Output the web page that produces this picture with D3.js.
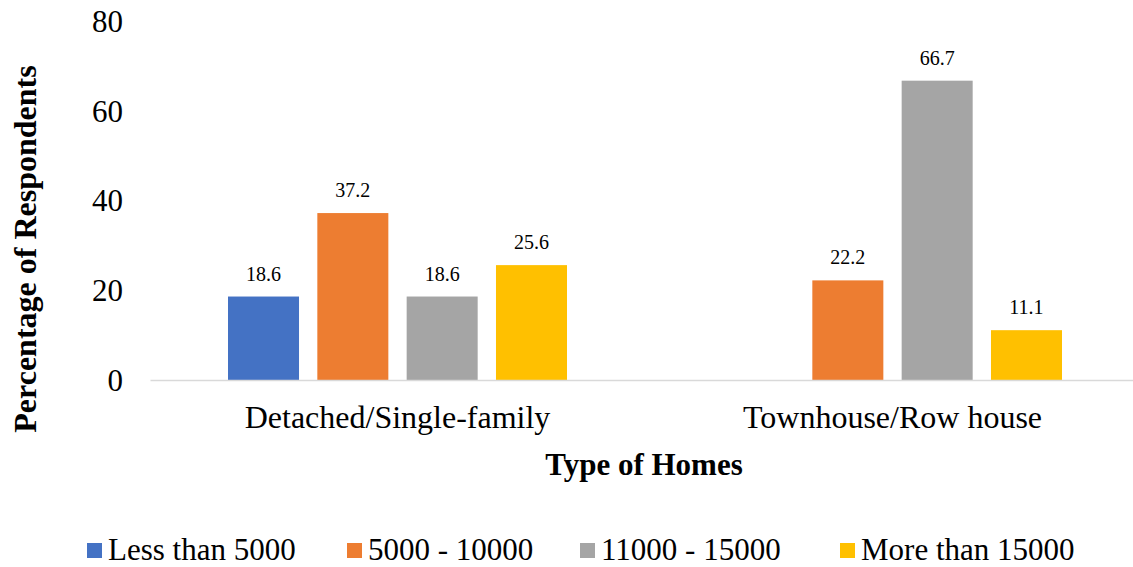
<!DOCTYPE html>
<html>
<head>
<meta charset="utf-8">
<script src="https://cdn.jsdelivr.net/npm/d3@7"></script>
<style>
  html, body { margin: 0; padding: 0; background: #fff; }
  svg { display: block; }
  svg text { font-family: "Liberation Serif", "Times New Roman", serif; }
</style>
</head>
<body>
<svg id="chart" width="1133" height="567"></svg>
<script>
// Home types on the x axis, floor-area bands as series
const categories = ["Detached/Single-family", "Townhouse/Row house"];
const seriesNames = ["Less than 5000", "5000 - 10000", "11000 - 15000", "More than 15000"];
const seriesColors = ["#4472C4", "#ED7D31", "#A5A5A5", "#FFC000"];
// values[series][category]; null = no respondents in that group
const values = [
  [18.6, null],
  [37.2, 22.2],
  [18.6, 66.7],
  [25.6, 11.1]
];
const yTicks = [0, 20, 40, 60, 80];

const FONT = "Liberation Serif, Times New Roman, serif";
const svg = d3.select("#chart");

const x0 = d3.scaleBand().domain(categories).range([150, 1140]).padding(0);
const x1 = d3.scaleBand().domain(seriesNames)
  .range([78, x0.bandwidth() - 78]).paddingInner(0.205).paddingOuter(0);
const y = d3.scaleLinear().domain([0, 80]).range([380, 21]);

// Y tick labels (no axis line, no gridlines)
svg.append("g").selectAll("text").data(yTicks).join("text")
  .attr("x", 123).attr("y", d => y(d))
  .attr("dy", "0.35em")
  .attr("text-anchor", "end")
  .attr("font-family", FONT)
  .attr("font-size", 31)
  .attr("fill", "#000")
  .text(d => d);

// Bars
const groups = svg.append("g").selectAll("g").data(categories).join("g")
  .attr("transform", d => `translate(${x0(d)},0)`);

const cells = groups.selectAll("g")
  .data((c, ci) => seriesNames.map((s, si) => ({s, si, v: values[si][ci]})).filter(d => d.v != null))
  .join("g");

cells.append("rect")
  .attr("x", d => x1(d.s))
  .attr("width", x1.bandwidth())
  .attr("y", d => y(d.v))
  .attr("height", d => y(0) - y(d.v))
  .attr("fill", d => seriesColors[d.si]);

cells.append("text")
  .attr("x", d => x1(d.s) + x1.bandwidth() / 2)
  .attr("y", d => y(d.v) - 16)
  .attr("text-anchor", "middle")
  .attr("font-family", FONT)
  .attr("font-size", 20)
  .attr("fill", "#000")
  .text(d => d.v.toFixed(1));

// Category axis
const xAxis = svg.append("g").attr("transform", `translate(0,${y(0)})`)
  .call(d3.axisBottom(x0).tickSize(0).tickPadding(0));
xAxis.attr("font-family", FONT);
xAxis.select(".domain").attr("stroke", "#d9d9d9").attr("stroke-width", 1.5);
xAxis.selectAll(".tick text")
  .attr("font-family", FONT)
  .attr("font-size", 32)
  .attr("fill", "#000")
  .attr("dy", null)
  .attr("y", 48);

// Axis titles
svg.append("text")
  .attr("x", 644).attr("y", 475)
  .attr("text-anchor", "middle")
  .attr("font-family", FONT)
  .attr("font-size", 31).attr("font-weight", "bold")
  .text("Type of Homes");

svg.append("text")
  .attr("transform", "translate(36,249) rotate(-90)")
  .attr("text-anchor", "middle")
  .attr("font-family", FONT)
  .attr("font-size", 32).attr("font-weight", "bold")
  .text("Percentage of Respondents");

// Legend
const legendX = [87, 347, 580, 840];
const legend = svg.append("g").selectAll("g").data(seriesNames).join("g")
  .attr("transform", (d, i) => `translate(${legendX[i]},543)`);
legend.append("rect").attr("width", 15).attr("height", 15)
  .attr("fill", (d, i) => seriesColors[i]);
legend.append("text").attr("x", 21).attr("y", 17)
  .attr("font-family", FONT)
  .attr("font-size", 31).attr("fill", "#000")
  .text(d => d);
</script>
</body>
</html>
